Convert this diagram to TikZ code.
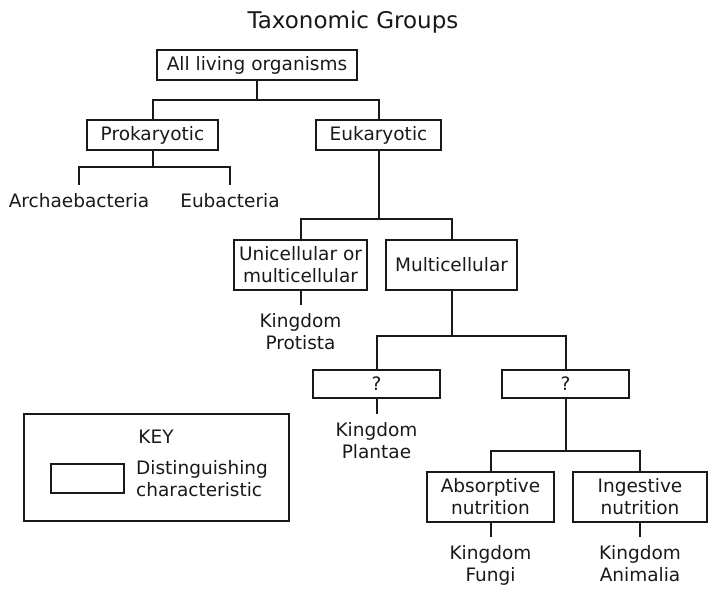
\documentclass[tikz,border=0pt]{standalone}
\usepackage{fontspec}
\setmainfont{DejaVu Sans}
\usetikzlibrary{positioning}

\begin{document}
\begin{tikzpicture}[
  x=1pt,y=-1pt,
  font=\fontsize{18.5}{22}\selectfont,
  node distance=14pt,
  trait/.style={draw=black!90,line width=2pt,align=center,inner sep=1pt,text=black!90},
  taxon/.style={align=center,inner xsep=1pt,inner ysep=8pt,text=black!90},
  link/.style={line width=2pt,draw=black!90}
]
  \useasboundingbox (0,0) rectangle (713,597);
  \node[font=\fontsize{23}{26}\selectfont,text=black!90] (title) at (353,22) {Taxonomic Groups};
  \node[trait,minimum width=200,minimum height=30] (all) at (257,65) {All living organisms};
  \node[trait,minimum width=131,minimum height=30] (pro) at (152.5,135) {Prokaryotic};
  \node[trait,minimum width=125,minimum height=30] (euk) at (378.5,135) {Eukaryotic};
  \node[taxon,anchor=north] (arch) at (79,185) {Archaebacteria};
  \node[taxon,anchor=north] (eub) at (230,185) {Eubacteria};
  \node[trait,minimum width=133,minimum height=50] (uni) at (300.5,265) {Unicellular or\\multicellular};
  \node[trait,minimum width=131,minimum height=50] (multi) at (451.5,265) {Multicellular};
  \node[taxon,below=of uni] (protista) {Kingdom\\Protista};
  \node[trait,minimum width=127,minimum height=28] (plantq) at (376.5,384) {?};
  \node[trait,minimum width=127,minimum height=28] (nutq) at (565.5,384) {?};
  \node[taxon,below=15pt of plantq] (plantae) {Kingdom\\Plantae};
  \node[trait,minimum width=127,minimum height=50] (abs) at (490.5,497) {Absorptive\\nutrition};
  \node[trait,minimum width=134,minimum height=50] (ing) at (640,497) {Ingestive\\nutrition};
  \node[taxon,below=of abs] (fungi) {Kingdom\\Fungi};
  \node[taxon,below=of ing] (animalia) {Kingdom\\Animalia};
  \draw[link] (all.south) -- ++(0,19) -| (pro.north);
  \draw[link] (all.south) -- ++(0,19) -| (euk.north);
  \draw[link] (pro.south) -- ++(0,16) -| (arch.north);
  \draw[link] (pro.south) -- ++(0,16) -| (eub.north);
  \draw[link] (euk.south) -- ++(0,68) -| (uni.north);
  \draw[link] (euk.south) -- ++(0,68) -| (multi.north);
  \draw[link] (uni.south) -- (protista.north);
  \draw[link] (multi.south) -- ++(0,45) -| (plantq.north);
  \draw[link] (multi.south) -- ++(0,45) -| (nutq.north);
  \draw[link] (plantq.south) -- (plantae.north);
  \draw[link] (nutq.south) -- ++(0,52) -| (abs.north);
  \draw[link] (nutq.south) -- ++(0,52) -| (ing.north);
  \draw[link] (abs.south) -- (fungi.north);
  \draw[link] (ing.south) -- (animalia.north);
  \node[trait,minimum width=265,minimum height=107] (keyframe) at (156.5,467) {};
  \node[text=black!90] (keytitle) at (156,437) {KEY};
  \node[trait,minimum width=73,minimum height=29] (keybox) at (87.5,478) {};
  \node[align=left,anchor=west,inner sep=1pt,text=black!90] (keytext) at (135,479) {Distinguishing\\characteristic};
\end{tikzpicture}
\end{document}
